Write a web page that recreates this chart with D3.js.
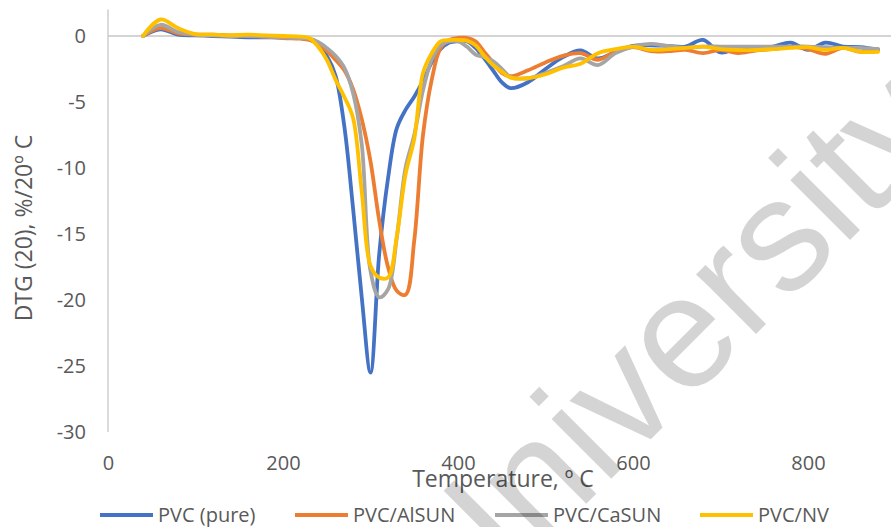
<!DOCTYPE html>
<html>
<head>
<meta charset="utf-8">
<script src="https://cdn.jsdelivr.net/npm/d3@7/dist/d3.min.js"></script>
<style>
  html, body { margin: 0; padding: 0; background: #fff; }
  svg { display: block; }
  text { font-family: "Open Sans", "Liberation Sans", sans-serif; fill: #595959; }
</style>
</head>
<body>
<svg id="chart" width="891" height="527"></svg>
<script>
// Temperature grid (°C) shared by all four DTG curves
const temperatures = [40, 60, 80, 100, 120, 140, 160, 180, 200, 220,
  230, 240, 250, 260, 270, 280, 290, 300, 310, 320, 330, 340, 350, 360,
  370, 380, 390, 400, 410, 420, 430, 440, 450, 460,
  480, 500, 520, 540, 560, 580, 600, 620, 640, 660, 680, 700, 720, 740,
  760, 780, 800, 820, 840, 860, 880];

// DTG (20), %/20 °C
const pvcPure = [0, 0.5, 0.1, 0.05, 0.0, -0.05, -0.1, -0.1, -0.1, -0.15,
  -0.25, -0.6, -1.5, -3.0, -6.8, -13.0, -19.8, -25.5, -16.5, -10.8, -7.0, -5.6, -4.6, -3.4,
  -2.0, -1.0, -0.5, -0.4, -0.4, -0.9, -1.7, -2.6, -3.5, -3.95,
  -3.5, -2.5, -1.6, -1.1, -1.7, -1.2, -0.75, -0.7, -0.75, -0.8, -0.3, -1.25, -0.9, -0.85,
  -0.8, -0.5, -1.05, -0.5, -0.8, -0.85, -1.05];

const pvcAlSUN = [0, 0.6, 0.2, 0.1, 0.1, 0.05, 0.0, -0.05, -0.15, -0.2,
  -0.3, -0.6, -1.1, -1.8, -2.6, -4.0, -6.3, -9.5, -14.0, -17.5, -19.3, -19.6, -15.5, -7.5,
  -3.3, -0.9, -0.3, -0.15, -0.15, -0.4, -1.2, -2.0, -2.8, -3.05,
  -2.6, -2.0, -1.5, -1.3, -1.8, -1.2, -0.85, -1.15, -1.15, -1.05, -1.3, -1.05, -1.3, -1.1,
  -1.0, -0.8, -1.0, -1.35, -0.9, -1.2, -1.0];

const pvcCaSUN = [0, 0.85, 0.3, 0.1, 0.05, 0.0, 0.0, -0.05, -0.1, -0.15,
  -0.2, -0.45, -0.9, -1.5, -2.4, -4.3, -8.2, -17.8, -19.8, -19.2, -15.3, -10.0, -7.5, -4.1,
  -1.8, -0.7, -0.4, -0.4, -0.8, -1.4, -1.6, -1.9, -2.5, -3.1,
  -3.2, -2.8, -2.3, -1.7, -2.2, -1.3, -0.8, -0.6, -0.75, -0.9, -0.8, -0.8, -0.8, -0.8,
  -0.8, -0.8, -0.8, -0.85, -0.9, -0.9, -1.0];

const pvcNV = [0, 1.25, 0.6, 0.15, 0.1, 0.05, 0.1, 0.05, 0.0, -0.05,
  -0.15, -0.8, -1.8, -3.3, -4.6, -6.2, -11.8, -17.4, -18.3, -18.3, -15.2, -10.5, -7.8, -2.8,
  -1.3, -0.4, -0.3, -0.3, -0.35, -0.7, -1.5, -2.2, -2.7, -3.15,
  -3.2, -2.9, -2.4, -2.1, -1.3, -1.0, -0.8, -1.05, -1.0, -0.9, -0.8, -1.0, -1.06, -1.06,
  -1.0, -0.9, -0.85, -1.05, -0.9, -1.2, -1.2];

const seriesNames = ["PVC (pure)", "PVC/AlSUN", "PVC/CaSUN", "PVC/NV"];
const seriesValues = [pvcPure, pvcAlSUN, pvcCaSUN, pvcNV];
const seriesColors = ["#4472C4", "#ED7D31", "#A5A5A5", "#FFC000"];

const xTicks = [0, 200, 400, 600, 800];
const yTicks = [-30, -25, -20, -15, -10, -5, 0];

const xTitle = "Temperature, º C";
const yTitle = "DTG (20), %/20º C";
const watermark = "University";

const svg = d3.select("#chart");

const x = d3.scaleLinear().domain([0, 900]).range([108, 895.5]);
const y = d3.scaleLinear().domain([-30, 2]).range([432, 9.6]);

// Axis lines: vertical value axis and the horizontal axis crossing at zero
svg.append("line")
  .attr("x1", x(0)).attr("x2", x(0))
  .attr("y1", y(2)).attr("y2", y(-30))
  .attr("stroke", "#c6c6c6").attr("stroke-width", 1.3);
svg.append("line")
  .attr("x1", x(0)).attr("x2", x(900))
  .attr("y1", y(0)).attr("y2", y(0))
  .attr("stroke", "#c6c6c6").attr("stroke-width", 1.3);

// Tick labels
const yAxis = svg.append("g")
  .attr("transform", `translate(${x(0)},0)`)
  .call(d3.axisLeft(y).tickValues(yTicks).tickSize(0).tickPadding(22).tickFormat(d3.format("d")));
const xAxis = svg.append("g")
  .attr("transform", `translate(0,${y(-30)})`)
  .call(d3.axisBottom(x).tickValues(xTicks).tickSize(0).tickPadding(24).tickFormat(d3.format("d")));
[yAxis, xAxis].forEach(g => {
  g.select(".domain").remove();
  g.selectAll("text")
    .attr("fill", "#595959")
    .style("font-family", "'Open Sans', sans-serif")
    .style("font-size", "20px");
});
yAxis.selectAll("text").text(d => d3.format("d")(d).replace("−", "-"));

// Axis titles
svg.append("text")
  .attr("x", 503).attr("y", 487)
  .attr("text-anchor", "middle")
  .style("font-size", "23px")
  .text(xTitle);
svg.append("text")
  .attr("transform", "translate(32,228) rotate(-90)")
  .attr("text-anchor", "middle")
  .style("font-size", "23px")
  .text(yTitle);

// Smoothed DTG curves
const line = d3.line()
  .x((d, i) => x(temperatures[i]))
  .y(d => y(d))
  .curve(d3.curveCatmullRom.alpha(0.5));

svg.append("g").selectAll("path")
  .data(seriesValues)
  .join("path")
  .attr("d", d => line(d))
  .attr("fill", "none")
  .attr("stroke", (d, i) => seriesColors[i])
  .attr("stroke-width", 3.8)
  .attr("stroke-linejoin", "round")
  .attr("stroke-linecap", "round");

// Legend
const legendX = [100, 295, 495, 700];
const legend = svg.append("g").selectAll("g")
  .data(seriesNames)
  .join("g")
  .attr("transform", (d, i) => `translate(${legendX[i]},515)`);
legend.append("line")
  .attr("x1", 0).attr("x2", 53)
  .attr("stroke", (d, i) => seriesColors[i])
  .attr("stroke-width", 3.8);
legend.append("text")
  .attr("x", 58).attr("dy", "0.35em")
  .style("font-size", "20px")
  .text(d => d);

// Diagonal watermark over the figure
svg.append("text")
  .attr("transform", "translate(459,631) rotate(-45)")
  .style("font-family", "'Liberation Sans', Arial, sans-serif")
  .style("font-size", "160px")
  .style("fill", "#000")
  .style("fill-opacity", 0.17)
  .text(watermark);
</script>
</body>
</html>
